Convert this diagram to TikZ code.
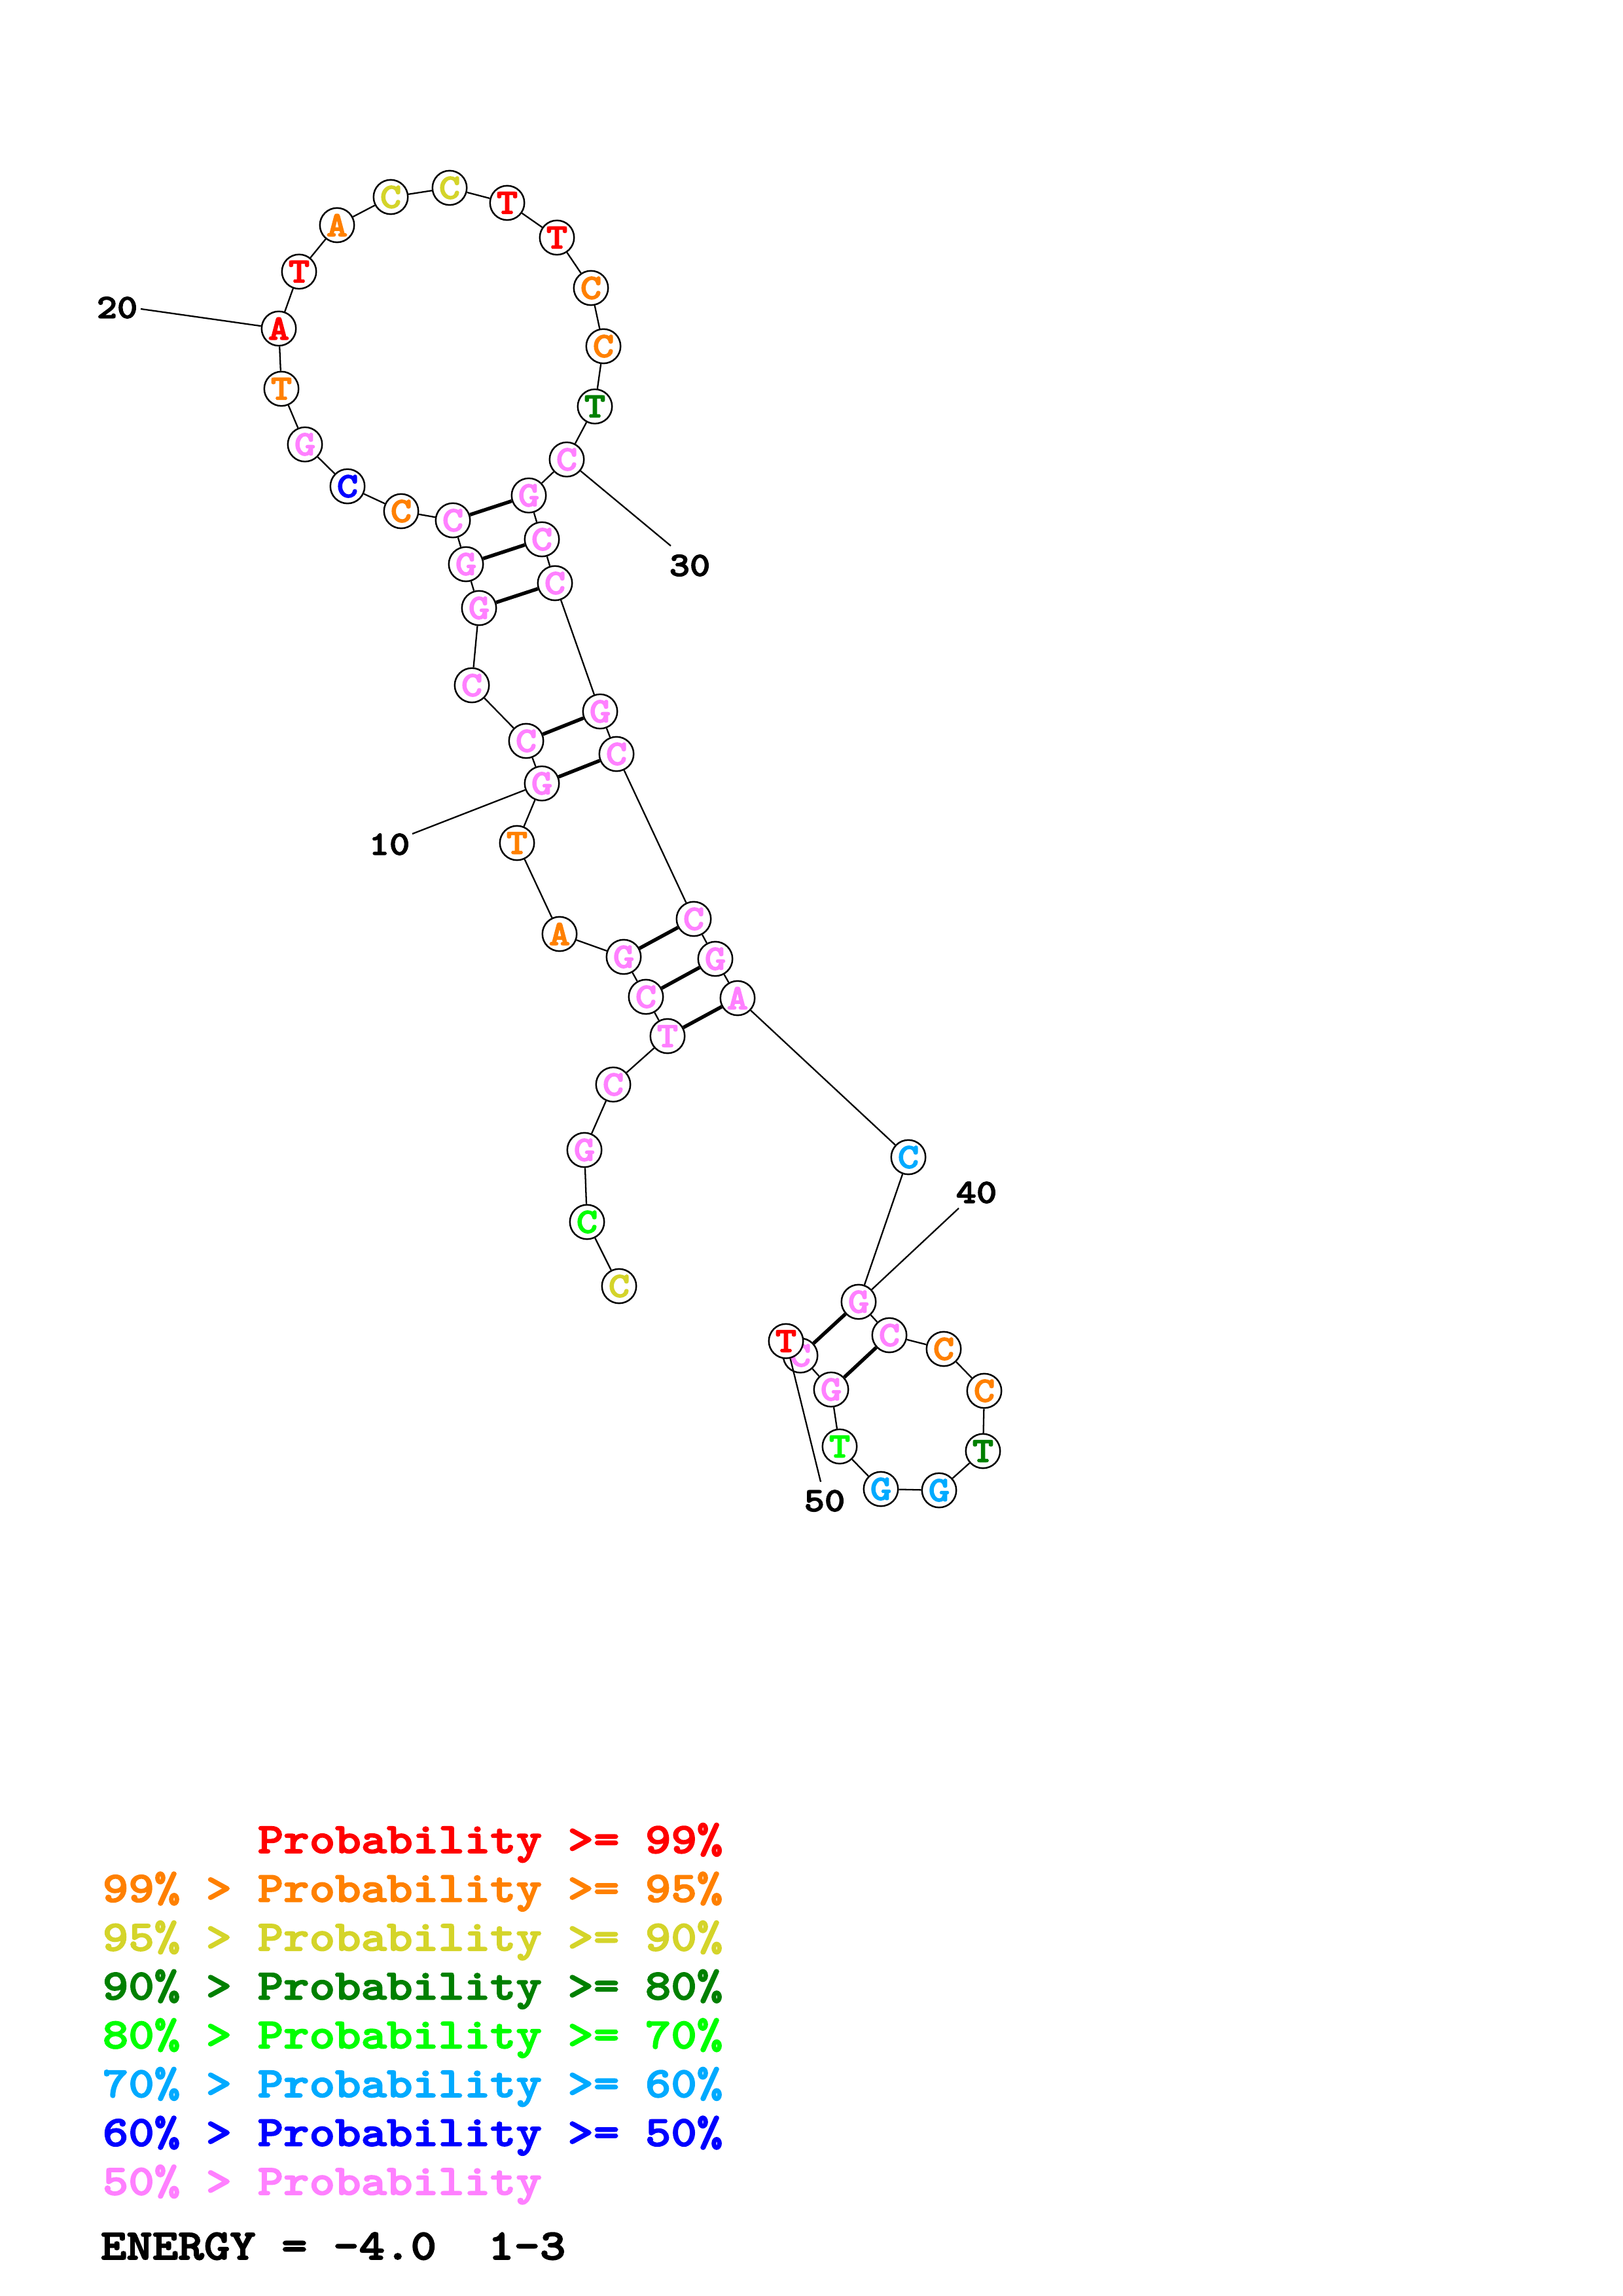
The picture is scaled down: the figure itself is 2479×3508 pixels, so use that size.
\documentclass[tikz,border=0pt]{standalone}
\usepackage{fontspec}
\newfontfamily\cour{lmmonolt10-bold}[Extension=.otf,FakeStretch=1.143,FakeBold=2.6]
\usetikzlibrary{backgrounds}
\definecolor{cRed}{RGB}{255,0,0}
\definecolor{cOrange}{RGB}{255,128,0}
\definecolor{cYellow}{RGB}{212,212,42}
\definecolor{cDGreen}{RGB}{0,128,0}
\definecolor{cGreen}{RGB}{0,255,0}
\definecolor{cCyan}{RGB}{0,170,255}
\definecolor{cBlue}{RGB}{0,0,255}
\definecolor{cPink}{RGB}{255,128,255}
\tikzset{
  nt/.style={circle,draw=black,line width=0.6pt,fill=white,minimum size=12.6pt,inner sep=0pt,font=\cour\fontsize{13}{13}\selectfont},
  bb/.style={line width=0.55pt},
  bp/.style={line width=1.3pt},
  lbl/.style={inner sep=0pt,font=\cour\fontsize{12.5}{12.5}\selectfont},
  lline/.style={line width=0.55pt},
  leg/.style={anchor=base west,inner sep=0pt,font=\cour\fontsize{15.8}{15.8}\selectfont}
}
\begin{document}
\begin{tikzpicture}[x=0.24014pt,y=-0.24014pt]
\useasboundingbox (0,0) rectangle (2479,3508);
% nucleotides
\node[nt,text=cYellow] (n1) at (946,1965) {C};
\node[nt,text=cGreen]  (n2) at (897,1867) {C};
\node[nt,text=cPink]   (n3) at (893,1757) {G};
\node[nt,text=cPink]   (n4) at (937,1657) {C};
\node[nt,text=cPink]   (n5) at (1020,1583) {T};
\node[nt,text=cPink]   (n6) at (987,1523) {C};
\node[nt,text=cPink]   (n7) at (953,1462) {G};
\node[nt,text=cOrange] (n8) at (855,1427) {A};
\node[nt,text=cOrange] (n9) at (790,1288) {T};
\node[nt,text=cPink]   (n10) at (828,1197) {G};
\node[nt,text=cPink]   (n11) at (804,1132) {C};
\node[nt,text=cPink]   (n12) at (721,1047) {C};
\node[nt,text=cPink]   (n13) at (732,929) {G};
\node[nt,text=cPink]   (n14) at (712,862) {G};
\node[nt,text=cPink]   (n15) at (692,795) {C};
\node[nt,text=cOrange] (n16) at (613,781) {C};
\node[nt,text=cBlue]   (n17) at (531,743) {C};
\node[nt,text=cPink]   (n18) at (466,679) {G};
\node[nt,text=cOrange] (n19) at (430,594) {T};
\node[nt,text=cRed]    (n20) at (426,502) {A};
\node[nt,text=cRed]    (n21) at (457,415) {T};
\node[nt,text=cOrange] (n22) at (515,344) {A};
\node[nt,text=cYellow] (n23) at (597,301) {C};
\node[nt,text=cYellow] (n24) at (687,287) {C};
\node[nt,text=cRed]    (n25) at (775,310) {T};
\node[nt,text=cRed]    (n26) at (851,363) {T};
\node[nt,text=cOrange] (n27) at (903,440) {C};
\node[nt,text=cOrange] (n28) at (922,529) {C};
\node[nt,text=cDGreen] (n29) at (909,621) {T};
\node[nt,text=cPink]   (n30) at (866,702) {C};
\node[nt,text=cPink]   (n31) at (808,757) {G};
\node[nt,text=cPink]   (n32) at (828,824) {C};
\node[nt,text=cPink]   (n33) at (848,891) {C};
\node[nt,text=cPink]   (n34) at (917,1087) {G};
\node[nt,text=cPink]   (n35) at (942,1152) {C};
\node[nt,text=cPink]   (n36) at (1060,1404) {C};
\node[nt,text=cPink]   (n37) at (1093,1465) {G};
\node[nt,text=cPink]   (n38) at (1127,1525) {A};
\node[nt,text=cCyan]   (n39) at (1388,1768) {C};
\node[nt,text=cPink]   (n40) at (1312,1989) {G};
\node[nt,text=cPink]   (n41) at (1359,2040) {C};
\node[nt,text=cOrange] (n42) at (1442,2061) {C};
\node[nt,text=cOrange] (n43) at (1504,2125) {C};
\node[nt,text=cDGreen] (n44) at (1502,2217) {T};
\node[nt,text=cCyan]   (n45) at (1435,2277) {G};
\node[nt,text=cCyan]   (n46) at (1346,2275) {G};
\node[nt,text=cGreen]  (n47) at (1283,2210) {T};
\node[nt,text=cPink]   (n48) at (1270,2123) {G};
\node[nt,text=cPink]   (n49) at (1223,2071) {C};
\node[nt,text=cRed]    (n50) at (1201,2049) {T};
% backbone and pairs behind the circles
\begin{scope}[on background layer]
\foreach \a/\b in {1/2,2/3,3/4,4/5,5/6,6/7,7/8,8/9,9/10,10/11,11/12,12/13,13/14,14/15,15/16,16/17,17/18,18/19,19/20,20/21,21/22,22/23,23/24,24/25,25/26,26/27,27/28,28/29,29/30,30/31,31/32,32/33,33/34,34/35,35/36,36/37,37/38,38/39,39/40,40/41,41/42,42/43,43/44,44/45,45/46,46/47,47/48,48/49,49/50}
  \draw[bb] (n\a) -- (n\b);
\foreach \a/\b in {15/31,14/32,13/33,11/34,10/35,7/36,6/37,5/38,49/40,48/41}
  \draw[bp] (n\a) -- (n\b);
\end{scope}
% position labels
\coordinate (e10) at (630,1274);
\coordinate (e20) at (215,472);
\coordinate (e30) at (1025,834);
\coordinate (e40) at (1465,1846);
\coordinate (e50) at (1254,2264);
\draw[lline] (n10) -- (e10);
\draw[lline] (n20) -- (e20);
\draw[lline] (n30) -- (e30);
\draw[lline] (n40) -- (e40);
\draw[lline] (n50) -- (e50);
\node[lbl] (t10) at (595,1290) {10};
\node[lbl] (t20) at (179,470) {20};
\node[lbl] (t30) at (1054,864) {30};
\node[lbl] (t40) at (1492,1822) {40};
\node[lbl] (t50) at (1260,2293) {50};
% legend
\node[leg,text=cRed]    (g1) at (393,2831) {Probability >= 99\%};
\node[leg,text=cOrange] (g2) at (156,2905.6) {99\% > Probability >= 95\%};
\node[leg,text=cYellow] (g3) at (156,2980.2) {95\% > Probability >= 90\%};
\node[leg,text=cDGreen] (g4) at (156,3054.8) {90\% > Probability >= 80\%};
\node[leg,text=cGreen]  (g5) at (156,3129.4) {80\% > Probability >= 70\%};
\node[leg,text=cCyan]   (g6) at (156,3204) {70\% > Probability >= 60\%};
\node[leg,text=cBlue]   (g7) at (156,3278.6) {60\% > Probability >= 50\%};
\node[leg,text=cPink]   (g8) at (156,3353.2) {50\% > Probability};
\node[leg,text=black]   (g9) at (153,3452) {ENERGY = -4.0\ \ 1-3};
\end{tikzpicture}
\end{document}
